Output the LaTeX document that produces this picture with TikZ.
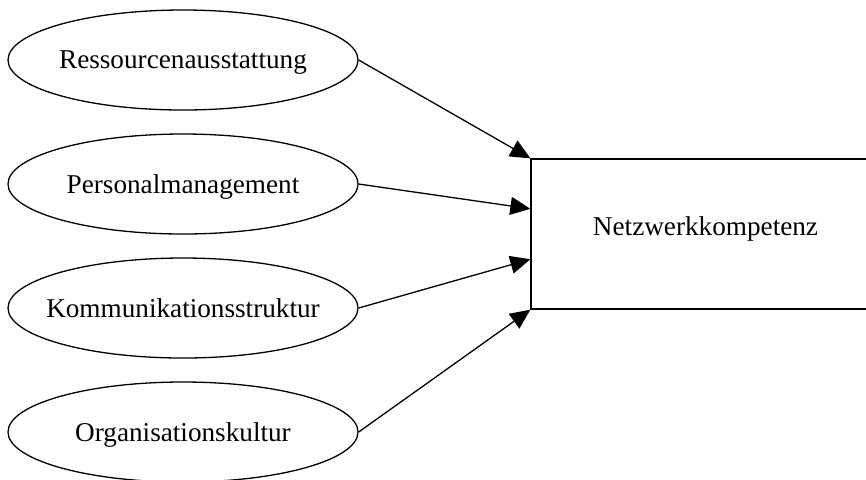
\documentclass[tikz,border=0pt]{standalone}
\usepackage{fontspec}
\setmainfont{Liberation Serif}
\usetikzlibrary{shapes.geometric,arrows.meta,calc}

\begin{document}
\begin{tikzpicture}[x=0.5pt, y=-0.5pt,
    every node/.style={font=\fontsize{13.6pt}{16pt}\selectfont},
    factor/.style={draw, ellipse, line width=0.65pt, inner xsep=-20pt,
      inner ysep=0pt, text depth=0pt, minimum width=175pt, minimum height=50pt},
    target/.style={draw, rectangle, line width=0.65pt, inner sep=0pt,
      minimum width=174.5pt, minimum height=75pt},
    link/.style={line width=0.65pt, -{Triangle[length=10pt, width=9pt]}}]
      \clip (0,0) rectangle (866,479);

      \node[factor] (res) at (183,60) {Ressourcenausstattung};
      \node[factor] (pers) at (183,184) {Personalmanagement};
      \node[factor] (komm) at (183,308) {Kommunikationsstruktur};
      \node[factor] (org) at (183,432) {Organisationskultur};

      \node[target] (netz) at (705.5,234) {};
      \node (netzlabel) at (705.5,229) {Netzwerkkompetenz};

      \coordinate (in2) at ($(netz.north west)!1/3!(netz.south west)$);
      \coordinate (in3) at ($(netz.north west)!2/3!(netz.south west)$);

      \draw[link] (res.east) -- (netz.north west);
      \draw[link] (pers.east) -- (in2);
      \draw[link] (komm.east) -- (in3);
      \draw[link] (org.east) -- (netz.south west);
    \end{tikzpicture}
\end{document}
